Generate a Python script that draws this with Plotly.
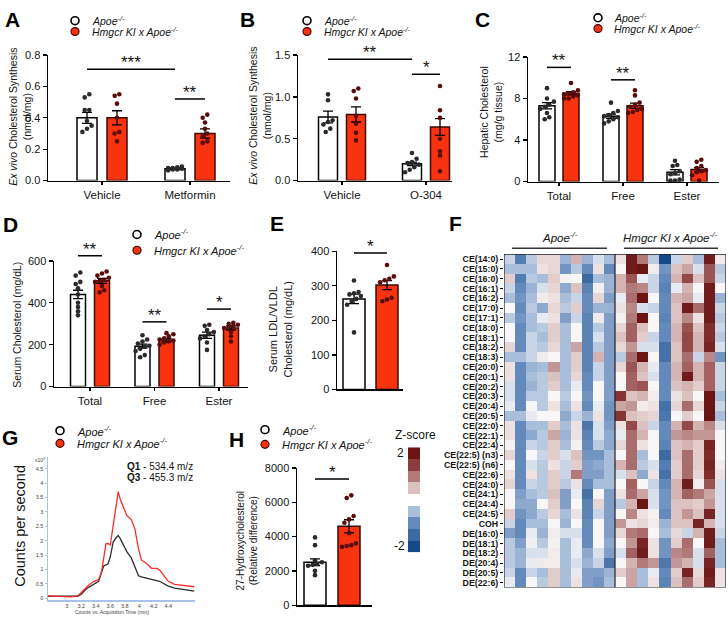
import plotly.graph_objects as go

W, H = 728, 621
FONT = "Liberation Sans, Arial, Helvetica, sans-serif"
RED = "#f8330f"
RED_EDGE = "#3a0a05"
RED_DOT = "#5a0c0c"
WT_DOT = "#2a2a2a"
TXT = "#141414"

# ------------------------------------------------------------------ data
A_groups = ["Vehicle", "Metformin"]
A_wt_mean = [0.40, 0.075]
A_wt_sem = [0.035, 0.005]
A_ki_mean = [0.40, 0.30]
A_ki_sem = [0.045, 0.03]
A_wt_pts = [[0.55, 0.53, 0.45, 0.45, 0.38, 0.35, 0.33, 0.31],
            [0.09, 0.085, 0.08, 0.075, 0.07, 0.07, 0.065, 0.08]]
A_ki_pts = [[0.55, 0.54, 0.49, 0.40, 0.31, 0.30, 0.25],
            [0.42, 0.40, 0.37, 0.33, 0.30, 0.28, 0.25, 0.24]]
A_sig = [((0, "wt"), (1, "wt"), 0.71, "***"), ((1, "wt"), (1, "ki"), 0.52, "**")]

B_groups = ["Vehicle", "O-304"]
B_wt_mean = [0.76, 0.20]
B_wt_sem = [0.07, 0.02]
B_ki_mean = [0.79, 0.64]
B_ki_sem = [0.09, 0.10]
B_wt_pts = [[1.03, 0.96, 0.72, 0.70, 0.67, 0.62, 0.58],
            [0.33, 0.26, 0.22, 0.21, 0.19, 0.16, 0.13, 0.10]]
B_ki_pts = [[1.10, 1.07, 0.98, 0.77, 0.68, 0.57, 0.48],
            [1.13, 0.84, 0.75, 0.50, 0.35, 0.30, 0.11]]
B_sig = [((0, "wt"), (1, "wt"), 1.45, "**"), ((1, "wt"), (1, "ki"), 1.27, "*")]

C_groups = ["Total", "Free", "Ester"]
C_wt_mean = [7.3, 6.3, 0.9]
C_wt_sem = [0.3, 0.2, 0.25]
C_ki_mean = [8.5, 7.3, 1.15]
C_ki_sem = [0.15, 0.25, 0.2]
C_wt_pts = [[9.0, 8.0, 7.7, 7.4, 7.2, 7.0, 6.6, 6.2, 6.0],
            [7.6, 6.8, 6.6, 6.4, 6.3, 6.2, 6.0, 5.8, 5.6],
            [2.0, 1.6, 1.5, 1.0, 0.8, 0.7, 0.2, 0.1, 0.1]]
C_ki_pts = [[9.5, 8.8, 8.6, 8.5, 8.4, 8.3, 8.2, 8.0, 8.0],
            [8.8, 8.3, 7.6, 7.4, 7.2, 7.0, 6.9, 6.7, 6.6],
            [2.1, 1.9, 1.5, 1.3, 1.1, 1.0, 0.9, 0.6, 0.1]]
C_sig = [((0, "wt"), (0, "ki"), 11.0, "**"), ((1, "wt"), (1, "ki"), 9.8, "**")]

D_groups = ["Total", "Free", "Ester"]
D_wt_mean = [440, 193, 245]
D_wt_sem = [20, 10, 15]
D_ki_mean = [505, 222, 280]
D_ki_sem = [12, 8, 10]
D_wt_pts = [[545, 530, 500, 490, 470, 440, 400, 380, 360, 340],
            [245, 225, 215, 205, 195, 190, 180, 170, 150, 140],
            [295, 290, 270, 260, 250, 240, 230, 210, 175]]
D_ki_pts = [[550, 540, 530, 520, 510, 505, 500, 480, 460, 450],
            [255, 250, 240, 230, 225, 220, 215, 210, 200],
            [305, 300, 295, 290, 285, 280, 260, 240, 215]]
D_sig = [((0, "wt"), (0, "ki"), 625, "**"), ((1, "wt"), (1, "ki"), 309, "**"),
         ((2, "wt"), (2, "ki"), 370, "*")]

E_groups = [""]
E_wt_mean = [262]
E_wt_sem = [14]
E_ki_mean = [302]
E_ki_sem = [13]
E_wt_pts = [[315, 282, 278, 275, 270, 262, 255, 245, 165]]
E_ki_pts = [[360, 327, 320, 316, 310, 265, 260, 255]]
E_sig = [((0, "wt"), (0, "ki"), 395, "*")]

H_groups = [""]
H_wt_mean = [2500]
H_wt_sem = [200]
H_ki_mean = [4600]
H_ki_sem = [380]
H_wt_pts = [[3950, 3500, 2600, 2500, 2400, 2350, 2300, 2000, 1750]]
H_ki_pts = [[6400, 6250, 5200, 5000, 4800, 4200, 3600, 3500, 3450, 3400]]
H_sig = [((0, "wt"), (0, "ki"), 7350, "*")]

# chromatogram (G)
G_time = [2.74, 2.9, 3.05, 3.15, 3.2, 3.25, 3.3, 3.37, 3.44, 3.48, 3.51, 3.54, 3.57,
          3.6, 3.64, 3.68, 3.71, 3.74, 3.79, 3.83, 3.89, 3.94, 3.99, 4.03, 4.1, 4.17,
          4.24, 4.28, 4.33, 4.4, 4.49, 4.6, 4.76]
G_ki = [0.08, 0.07, 0.05, 0.08, 0.2, 0.32, 0.45, 0.58, 0.65, 0.93, 1.5, 1.89, 1.9,
        1.85, 2.52, 3.2, 3.7, 3.42, 3.08, 2.86, 2.74, 2.4, 1.72, 1.33, 1.21, 1.04,
        1.04, 0.99, 0.82, 0.59, 0.48, 0.45, 0.4]
G_wt = [0.07, 0.07, 0.06, 0.07, 0.14, 0.28, 0.38, 0.48, 0.59, 0.9, 1.12, 1.16, 1.2,
        1.44, 1.95, 2.1, 2.18, 2.06, 1.78, 1.61, 1.4, 1.1, 0.78, 0.74, 0.7, 0.66,
        0.6, 0.59, 0.52, 0.42, 0.35, 0.31, 0.25]
G_xticks = [3, 3.2, 3.4, 3.6, 3.8, 4, 4.2, 4.4]
G_yticks = [0, 0.5, 1, 1.5, 2, 2.5, 3, 3.5, 4, 4.5]

# heatmap (F)
F_rows = ["CE(14:0)", "CE(15:0)", "CE(16:0)", "CE(16:1)", "CE(16:2)", "CE(17:0)",
          "CE(17:1)", "CE(18:0)", "CE(18:1)", "CE(18:2)", "CE(18:3)", "CE(20:0)",
          "CE(20:1)", "CE(20:2)", "CE(20:3)", "CE(20:4)", "CE(20:5)", "CE(22:0)",
          "CE(22:1)", "CE(22:4)", "CE(22:5) (n3)", "CE(22:5) (n6)", "CE(22:6)",
          "CE(24:0)", "CE(24:1)", "CE(24:4)", "CE(24:5)", "COH", "DE(16:0)",
          "DE(18:1)", "DE(18:2)", "DE(20:4)", "DE(20:5)", "DE(22:6)"]
F_z = [
    [-0.3, -1.2, -0.4, 0.3, 0.3, -0.6, 0.6, -0.6, -0.2, -0.5, 0.2, 1.9, 1.0, -0.4, -2.0, -0.3, 0.4, -0.5, 1.9, 0.1],
    [-0.5, -0.5, -0.5, 0.2, 0.3, -0.9, -0.4, -1.0, 0.2, -1.0, 0.0, 1.9, 2.0, 0.1, -0.9, 0.5, 0.7, -0.2, 1.3, -0.4],
    [0.4, -1.2, -0.4, -0.5, 0.4, 0.05, 0.0, -1.5, -0.5, -0.6, 0.6, 1.3, -0.1, -0.3, -1.0, 0.6, 1.4, 0.5, 1.3, -0.3],
    [-0.3, -1.0, -0.6, -0.2, 0.3, -0.7, 0.5, -1.1, 0.05, -0.6, 0.6, 1.0, 0.9, -0.3, -1.1, -0.1, 0.6, 0.0, 1.9, 0.0],
    [-0.5, -0.9, -0.5, 0.1, 0.2, -0.5, -0.3, -1.0, 0.3, -0.8, -0.1, 1.1, 2.0, 0.0, -1.0, 0.6, 0.7, -0.1, 1.9, -0.6],
    [0.0, -1.0, -0.4, -0.7, 0.3, -0.4, 0.4, -1.0, -0.6, -0.6, 0.2, 0.9, -0.2, -0.3, -1.0, 0.5, 1.9, 1.1, 1.9, -0.3],
    [-0.4, -0.9, -0.5, -0.1, 0.2, -0.8, -0.3, -1.1, 0.1, -0.8, 0.05, 1.0, 2.0, 0.0, -1.1, 0.5, 0.9, 0.2, 1.9, -0.4],
    [0.0, -1.0, -0.5, -0.4, 0.4, -0.5, 0.0, -1.1, -0.4, -0.8, 0.3, 1.2, 0.5, 0.0, -1.0, 0.6, 1.3, 0.5, 1.7, -0.3],
    [0.0, -1.0, -0.3, -0.5, 0.4, -0.5, 0.0, -1.1, -0.2, -0.8, 0.5, 1.2, 0.4, -0.3, -1.0, 0.6, 1.4, 0.6, 1.7, -0.4],
    [0.3, -1.0, -0.3, -0.4, 0.3, -0.5, 0.7, -1.1, -0.4, -0.8, 0.3, 0.8, -0.2, -0.2, -1.4, 0.5, 1.4, 0.6, 1.8, -0.2],
    [-0.5, -0.5, -0.3, 0.1, 0.0, -0.5, 0.4, -1.1, 0.6, -0.8, -0.4, 1.1, 2.0, 0.0, -1.4, 0.5, 1.1, -0.3, 0.9, -0.9],
    [0.2, -1.0, -0.6, -0.5, 0.8, -0.5, 0.4, -1.1, -0.3, -0.8, 0.3, 1.3, 0.6, -0.1, -1.0, 0.6, 1.2, 0.6, 1.2, -0.3],
    [0.2, -1.0, -0.5, -0.4, 0.5, -0.5, 0.3, -1.0, -0.3, -0.8, 0.0, 1.2, 0.5, -0.2, -1.0, 0.6, 1.9, 0.6, 1.2, -0.3],
    [-0.2, -1.0, -0.6, -0.4, 0.4, -0.5, -0.1, -1.0, 0.0, -0.8, 0.0, 1.2, 1.3, 0.0, -1.0, 0.5, 0.6, 0.4, 1.2, -0.3],
    [-0.2, -1.0, -0.4, -0.4, 0.0, -0.4, 0.0, -0.9, 0.0, -0.8, 1.6, 0.5, 0.6, 0.1, -1.0, 0.2, 0.5, 0.0, 2.0, -0.5],
    [-0.1, -1.0, 0.0, -0.4, 0.2, -0.5, 0.2, -1.0, -0.1, -0.9, 0.7, 0.8, 0.1, 0.2, -1.4, 0.3, 1.1, 0.3, 2.0, -0.3],
    [-0.5, -0.5, -0.1, 0.0, 0.0, -0.7, -0.3, -0.6, 0.2, -0.9, 1.6, 0.5, 0.4, 0.3, -1.3, 0.0, 0.4, 0.0, 2.0, -0.5],
    [0.2, -1.0, -0.5, -0.5, 0.4, -0.5, 0.2, -1.3, -0.2, -0.8, 0.2, 1.4, 0.5, -0.3, -1.0, 0.6, 1.4, 0.6, 0.9, -0.2],
    [0.2, -1.0, -0.7, -0.4, 0.7, -0.6, 0.2, -1.1, -0.2, -0.7, -0.1, 1.1, 0.6, 0.0, -1.0, 0.8, 0.9, 0.8, 0.8, 0.0],
    [0.05, -1.0, -0.3, -0.4, 0.4, -0.5, 0.05, -1.0, -0.4, -0.7, 0.3, 1.1, 0.2, 0.0, -1.1, 0.5, 0.6, 0.4, 1.8, 0.0],
    [0.3, -1.0, 0.0, -0.3, 0.4, -0.2, 0.5, -0.9, -0.9, -0.5, 0.0, 1.1, -0.5, 0.0, -1.5, 0.5, 1.1, 0.4, 1.7, 0.0],
    [0.0, -1.0, -0.2, -0.4, 0.2, -0.3, 0.4, -0.8, -0.7, -0.5, 0.6, 1.1, -0.4, -0.2, -1.2, 0.4, 1.1, 0.4, 1.8, 0.1],
    [0.2, -1.0, 0.2, -0.4, 0.4, -0.3, 1.0, -0.8, -0.8, -0.5, -0.2, 0.5, -0.7, 0.2, -1.4, 0.4, 1.1, 0.3, 1.7, 0.2],
    [0.3, -1.0, -0.3, -0.4, 0.4, -0.4, 0.2, -1.0, -0.5, -0.5, 0.0, 1.2, 0.0, -0.3, -1.0, 0.6, 1.9, 0.1, 1.3, -0.2],
    [0.0, -0.8, -0.5, -0.4, 0.5, -0.8, -0.1, -1.4, 0.0, -0.8, 0.2, 1.1, 0.7, -0.2, -0.9, 0.6, 1.2, 1.0, 0.7, -0.2],
    [0.0, -0.7, -0.7, 0.0, 0.4, -0.8, 0.0, -1.1, 0.3, -0.8, -0.4, 0.6, 2.0, -0.2, -0.9, 0.5, 0.5, 0.4, 0.8, -0.2],
    [0.4, -0.9, -0.7, -0.4, 0.3, -0.5, 0.2, -1.1, -0.3, -0.8, 0.0, 0.9, 0.2, 0.05, -1.0, 0.5, 0.8, 0.5, 1.8, -0.2],
    [-0.3, -1.0, -0.5, -0.5, 0.0, -0.6, 0.0, -1.0, 0.0, -0.8, 0.8, 0.2, 0.3, 0.1, -0.6, 0.5, 0.5, 1.8, 0.6, -0.2],
    [-0.8, -1.0, -0.1, -0.6, 0.1, -0.2, -0.2, -1.0, 0.0, -0.8, 0.3, 1.0, 1.1, 0.0, -0.5, 0.3, -0.3, 0.6, 1.9, -0.3],
    [-0.4, -0.8, -0.05, -0.4, 0.05, -0.5, -0.1, -1.0, 0.0, -0.7, 0.0, 0.8, 1.8, 0.2, -0.9, 0.4, 1.1, 0.0, 1.9, -0.5],
    [-0.4, -0.6, -0.2, -0.2, 0.1, -0.5, -0.1, -0.7, -0.2, -0.8, -0.2, 1.2, 1.9, 0.2, -0.9, 0.9, 1.0, -0.2, 1.2, -0.5],
    [-0.4, -0.6, -0.1, 0.1, 0.1, -0.5, -0.2, -0.6, -0.3, -1.3, 0.0, 0.6, 1.0, 0.8, -1.3, 0.8, 0.6, -0.2, 1.8, -0.5],
    [-0.3, -1.0, -0.3, -0.5, 0.4, -0.5, -0.1, -0.8, -0.8, -0.6, 0.4, 0.7, -0.5, -0.1, -1.0, 0.4, 1.8, 0.3, 1.9, 0.2],
    [-0.1, -1.0, 0.0, -0.4, 0.4, -0.5, 0.2, -0.8, -0.9, -0.5, 0.0, 0.7, -0.5, 0.2, -1.1, 0.5, 1.1, 0.4, 1.8, 0.2],
]
Z_key_levels = [2, 1.5, 1, 0.5, None, -0.5, -1, -1.5, -2]
Z_key_labels = ["2", "-2"]

LEG_WT = "<i>Apoe<sup>-/-</sup></i>"
LEG_KI = "<i>Hmgcr KI x Apoe<sup>-/-</sup></i>"

# ------------------------------------------------------------------ helpers
def xdom(a, b):
    return [a / W, b / W]


def ydom(t, b):
    return [1 - b / H, 1 - t / H]


def PX(x):
    return x / W


def PY(y):
    return 1 - y / H


fig = go.Figure()
layout = dict(width=W, height=H, margin=dict(l=0, r=0, t=0, b=0),
              paper_bgcolor="white", plot_bgcolor="rgba(0,0,0,0)",
              showlegend=False, font=dict(family=FONT, color=TXT, size=11))
shapes, annos = [], []


def text(x, y, t, size=11, xanchor="center", yanchor="middle", angle=0, color=TXT):
    annos.append(dict(x=PX(x), y=PY(y), xref="paper", yref="paper", text=t,
                      showarrow=False, xanchor=xanchor, yanchor=yanchor,
                      textangle=angle, font=dict(size=size, color=color, family=FONT)))


def legend(cx, cy1, cy2, tx, size=11):
    r = 4
    shapes.append(dict(type="circle", xref="paper", yref="paper",
                       x0=PX(cx - r), x1=PX(cx + r), y0=PY(cy1 + r), y1=PY(cy1 - r),
                       fillcolor="white", line=dict(color="black", width=1.6)))
    shapes.append(dict(type="circle", xref="paper", yref="paper",
                       x0=PX(cx - r), x1=PX(cx + r), y0=PY(cy2 + r), y1=PY(cy2 - r),
                       fillcolor=RED, line=dict(color=RED_EDGE, width=1.2)))
    text(tx, cy1, LEG_WT, size, xanchor="left")
    text(tx, cy2, LEG_KI, size, xanchor="left")


def spread(vals, center, thr, step, cap=4):
    order = sorted(range(len(vals)), key=lambda i: vals[i])
    xs = [center] * len(vals)
    clusters, cur = [], [order[0]]
    for i in order[1:]:
        if vals[i] - vals[cur[-1]] < thr and len(cur) < cap:
            cur.append(i)
        else:
            clusters.append(cur)
            cur = [i]
    clusters.append(cur)
    for cl in clusters:
        m = len(cl)
        for k, i in enumerate(cl):
            xs[i] = center + (k - (m - 1) / 2) * step
    return xs


def bar_panel(n, xpx, ypx, c0, unit, off_px, bw_px, yr, yticks, yfmt,
              groups, wt_mean, wt_sem, ki_mean, ki_sem, wt_pts, ki_pts, sig):
    xa = "x" if n == 1 else f"x{n}"
    ya = "y" if n == 1 else f"y{n}"
    xk = "xaxis" if n == 1 else f"xaxis{n}"
    yk = "yaxis" if n == 1 else f"yaxis{n}"
    lo = (xpx[0] - c0) / unit
    hi = (xpx[1] - c0) / unit
    off = off_px / unit
    bw = bw_px / unit
    ypp = (ypx[1] - ypx[0]) / (yr[1] - yr[0])
    thr = 4.2 / ypp
    step = 4.6 / unit
    idx = list(range(len(groups)))
    for geno, means, sems, pts, sgn in (("wt", wt_mean, wt_sem, wt_pts, -1),
                                         ("ki", ki_mean, ki_sem, ki_pts, 1)):
        xs = [i + sgn * off for i in idx]
        fig.add_trace(go.Bar(
            x=xs, y=means, width=bw, xaxis=xa, yaxis=ya,
            marker=dict(color="white" if geno == "wt" else RED,
                        line=dict(color="black" if geno == "wt" else RED_EDGE, width=1.5)),
            error_y=dict(type="data", array=sems, color="black", thickness=1.3, width=5),
        ))
        px_, py_ = [], []
        for i, vals in zip(idx, pts):
            px_ += spread(vals, i + sgn * off, thr, step)
            py_ += vals
        fig.add_trace(go.Scatter(
            x=px_, y=py_, mode="markers", xaxis=xa, yaxis=ya, cliponaxis=False,
            marker=dict(size=4.6, color=WT_DOT if geno == "wt" else RED_DOT, line=dict(width=0)),
        ))
    layout[xk] = dict(domain=xdom(*xpx), range=[lo, hi], anchor=ya, showline=True,
                      linecolor="black", linewidth=1.5, showgrid=False, zeroline=False,
                      ticks="outside" if groups[0] else "", ticklen=3, tickwidth=1.3,
                      tickcolor="black", tickvals=idx, ticktext=groups,
                      showticklabels=bool(groups[0]),
                      tickfont=dict(size=11.5, color=TXT, family=FONT))
    layout[yk] = dict(domain=ydom(*ypx), range=list(yr), anchor=xa, showline=True,
                      linecolor="black", linewidth=1.5, showgrid=False, zeroline=False,
                      ticks="outside", ticklen=4, tickwidth=1.3, tickcolor="black",
                      tickvals=yticks, ticktext=[yfmt.format(v) for v in yticks],
                      tickfont=dict(size=11, color=TXT, family=FONT))
    for (g1, s1), (g2, s2), yv, stars in sig:
        x1 = g1 + (-off if s1 == "wt" else off)
        x2 = g2 + (-off if s2 == "wt" else off)
        yf = (yv - yr[0]) / (yr[1] - yr[0])
        shapes.append(dict(type="line", xref=xa, yref=f"{ya} domain", x0=x1, x1=x2,
                           y0=yf, y1=yf, line=dict(color="black", width=1.5)))
        annos.append(dict(x=(x1 + x2) / 2, y=yf, xref=xa, yref=f"{ya} domain",
                          text=stars, showarrow=False, xanchor="center", yanchor="bottom",
                          yshift=-5, font=dict(size=17, color=TXT, family=FONT)))


# ------------------------------------------------------------------ bar panels
bar_panel(1, (48, 230), (50, 178), 102, 88, 15, 20, (0, 0.8), [0, 0.2, 0.4, 0.6, 0.8], "{:.1f}",
          A_groups, A_wt_mean, A_wt_sem, A_ki_mean, A_ki_sem, A_wt_pts, A_ki_pts, A_sig)
bar_panel(2, (298, 452), (50, 178), 342, 84, 14, 19, (0, 1.5), [0, 0.5, 1.0, 1.5], "{:.1f}",
          B_groups, B_wt_mean, B_wt_sem, B_ki_mean, B_ki_sem, B_wt_pts, B_ki_pts, B_sig)
bar_panel(3, (528, 719), (52, 179), 559, 64, 12, 16, (0, 12), [0, 4, 8, 12], "{:d}",
          C_groups, C_wt_mean, C_wt_sem, C_ki_mean, C_ki_sem, C_wt_pts, C_ki_pts, C_sig)
bar_panel(4, (54, 248), (260, 388), 90, 64.5, 12, 15, (0, 600), [0, 200, 400, 600], "{:d}",
          D_groups, D_wt_mean, D_wt_sem, D_ki_mean, D_ki_sem, D_wt_pts, D_ki_pts, D_sig)
bar_panel(5, (337, 403), (250, 391), 370.5, 33, 16.5, 22, (0, 400), [0, 100, 200, 300, 400], "{:d}",
          E_groups, E_wt_mean, E_wt_sem, E_ki_mean, E_ki_sem, E_wt_pts, E_ki_pts, E_sig)
bar_panel(6, (297, 372), (471, 611), 332, 34, 17, 22, (0, 8000), [0, 2000, 4000, 6000, 8000], "{:d}",
          H_groups, H_wt_mean, H_wt_sem, H_ki_mean, H_ki_sem, H_wt_pts, H_ki_pts, H_sig)

# ------------------------------------------------------------------ G chromatogram
BLUE_AX = "#a9c2ea"
fig.add_trace(go.Scatter(x=G_time, y=G_wt, mode="lines", xaxis="x7", yaxis="y7",
                         line=dict(color="#2f2f2f", width=1.3)))
fig.add_trace(go.Scatter(x=G_time, y=G_ki, mode="lines", xaxis="x7", yaxis="y7",
                         line=dict(color="#ff2b2b", width=1.3)))
layout["xaxis7"] = dict(domain=xdom(48, 195), range=[2.74, 4.77], anchor="y7", showline=True,
                        linecolor=BLUE_AX, linewidth=1.5, showgrid=False, zeroline=False,
                        ticks="", tickvals=G_xticks,
                        ticktext=[f"{v:g}" for v in G_xticks],
                        tickfont=dict(size=5.5, color="#444", family=FONT))
layout["yaxis7"] = dict(domain=ydom(460, 606), range=[-0.07, 4.9], anchor="x7", showline=True,
                        linecolor=BLUE_AX, linewidth=1.5, showgrid=False, zeroline=False,
                        ticks="outside", ticklen=2, tickcolor=BLUE_AX, tickvals=G_yticks,
                        ticktext=[f"{v:g}" for v in G_yticks],
                        tickfont=dict(size=5.5, color="#444", family=FONT))
text(40, 463, "x10<sup>3</sup>", 5, color="#444")
text(195, 470, "<b>Q1</b> - 534.4 m/z", 10, xanchor="right")
text(195, 481, "<b>Q3</b> - 455.3 m/z", 10, xanchor="right")
text(112, 617.5, "Counts vs. Acquisition Time (min)", 5, color="#444")
text(20, 530, "Counts per second", 14.5, angle=-90)

# ------------------------------------------------------------------ F heatmap
CS = [[0.0, "#17498a"], [0.125, "#3d6aa3"], [0.25, "#6489bb"], [0.375, "#a9bedb"],
      [0.5, "#f8f6f6"], [0.625, "#dcc1c1"], [0.75, "#b27979"], [0.875, "#8c3c3c"],
      [1.0, "#6a1414"]]
fig.add_trace(go.Heatmap(z=F_z, x=list(range(20)), y=list(range(len(F_rows))),
                         colorscale=CS, zmin=-2, zmax=2, showscale=False,
                         xaxis="x8", yaxis="y8", hoverinfo="skip"))
layout["xaxis8"] = dict(domain=xdom(504, 726), range=[-0.5, 19.5], anchor="y8",
                        showticklabels=False, showgrid=False, zeroline=False, ticks="")
layout["yaxis8"] = dict(domain=ydom(253, 593), range=[len(F_rows) - 0.5, -0.5], anchor="x8",
                        showgrid=False, zeroline=False, ticks="outside", ticklen=3,
                        tickwidth=1, tickcolor="black", tickvals=list(range(len(F_rows))),
                        ticktext=[f"<b>{r}</b>" for r in F_rows],
                        tickfont=dict(size=8.8, color=TXT, family=FONT))
shapes.append(dict(type="rect", xref="x8", yref="y8", x0=-0.5, x1=19.5,
                   y0=-0.5, y1=len(F_rows) - 0.5, line=dict(color="#222", width=1.2)))
shapes.append(dict(type="line", xref="x8", yref="y8", x0=9.5, x1=9.5,
                   y0=-0.5, y1=len(F_rows) - 0.5, line=dict(color="#222", width=1.2)))
text(560, 236, LEG_WT, 11.5)
text(670, 236, LEG_KI, 11.5)
shapes.append(dict(type="line", xref="paper", yref="paper", x0=PX(512), x1=PX(607),
                   y0=PY(247), y1=PY(247), line=dict(color="#333", width=1.5)))
shapes.append(dict(type="line", xref="paper", yref="paper", x0=PX(624), x1=PX(718),
                   y0=PY(247), y1=PY(247), line=dict(color="#333", width=1.5)))

# Z-score key
fig.add_trace(go.Heatmap(z=[[v] for v in Z_key_levels], x=[0], y=list(range(len(Z_key_levels))),
                         colorscale=CS, zmin=-2, zmax=2, showscale=False,
                         xaxis="x9", yaxis="y9", hoverinfo="skip"))
layout["xaxis9"] = dict(domain=xdom(408, 420), range=[-0.5, 0.5], anchor="y9",
                        visible=False)
layout["yaxis9"] = dict(domain=ydom(450, 557), range=[len(Z_key_levels) - 0.5, -0.5],
                        anchor="x9", visible=False)
text(415, 437, "Z-score", 12)
text(400, 456, Z_key_labels[0], 12)
text(399, 551, Z_key_labels[1], 12)

# ------------------------------------------------------------------ titles / letters / legends
text(20, 113, "<i>Ex vivo</i> Cholesterol Synthesis<br>(nmol/mg)", 10.5, angle=-90)
text(260, 112, "<i>Ex vivo</i> Cholesterol Synthesis<br>(nmol/mg)", 10.5, angle=-90)
text(491, 108, "Hepatic Cholesterol<br>(mg/g tissue)", 10.5, angle=-90)
text(17, 325, "Serum Cholesterol (mg/dL)", 10.5, angle=-90)
text(280, 330, "Serum LDL/VLDL<br>Cholesterol (mg/dL)", 11, angle=-90)
text(247, 545, "27-Hydroxycholesterol<br>(Relative difference)", 10, angle=-90)

for L, x, y in (("A", 12, 14), ("B", 247, 14), ("C", 482, 14), ("D", 10, 223),
                ("E", 277, 222), ("F", 455, 222), ("G", 10, 440), ("H", 236, 442)):
    text(x, y, f"<b>{L}</b>", 21, color="black")

legend(75, 15, 26, 90, 10.5)
legend(307, 15, 26, 322, 10.5)
legend(598, 12, 23, 612, 10.5)
legend(137, 233, 249, 152)
legend(60, 433, 446, 75)
legend(265, 432, 447, 280)

layout["shapes"] = shapes
layout["annotations"] = annos
fig.update_layout(**layout)
fig.write_html(
    "out.html",
    config={"displayModeBar": False, "staticPlot": True},
    post_script="document.body.style.margin='0';document.body.style.overflow='hidden';",
)
